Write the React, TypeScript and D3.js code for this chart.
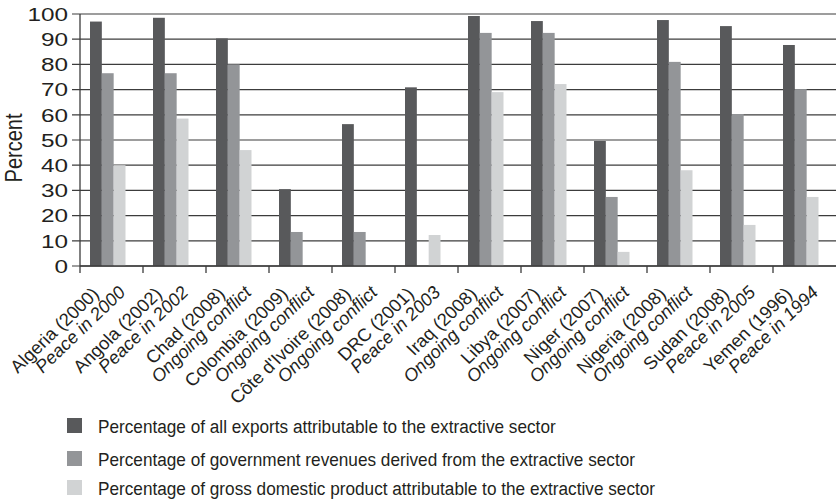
import React from "react";
import * as d3 from "d3";

const categories = ["Algeria (2000)", "Angola (2002)", "Chad (2008)", "Colombia (2009)", "Côte d'Ivoire (2008)", "DRC (2001)", "Iraq (2008)", "Libya (2007)", "Niger (2007)", "Nigeria (2008)", "Sudan (2008)", "Yemen (1996)"];
const statusLabels = ["Peace in 2000", "Peace in 2002", "Ongoing conflict", "Ongoing conflict", "Ongoing conflict", "Peace in 2003", "Ongoing conflict", "Ongoing conflict", "Ongoing conflict", "Ongoing conflict", "Peace in 2005", "Peace in 1994"];
const exportsShare = [97, 98.5, 90.3, 30.5, 56.3, 70.9, 99.2, 97.2, 49.6, 97.6, 95.2, 87.7];
const revenueShare: (number | null)[] = [76.5, 76.5, 80, 13.5, 13.5, null, 92.5, 92.5, 27.4, 81, 60.3, 70.2];
const gdpShare: (number | null)[] = [40, 58.5, 46, null, null, 12.3, 69, 72.2, 5.6, 38, 16.3, 27.4];
const seriesNames = [
  "Percentage of all exports attributable to the extractive sector",
  "Percentage of government revenues derived from the extractive sector",
  "Percentage of gross domestic product attributable to the extractive sector",
];
const yTicks = [0, 10, 20, 30, 40, 50, 60, 70, 80, 90, 100];

const colors = ["#58595b", "#939598", "#d1d3d4"];
const FONT = "'Liberation Sans', Arial, Helvetica, sans-serif";

export default function App() {
  const W = 836, H = 501;
  const left = 80, right = 836, top = 14, bottom = 266;
  const x = d3.scaleBand<string>().domain(categories).range([left, right]).padding(0);
  const y = d3.scaleLinear().domain([0, 100]).range([bottom, top]);
  const series = [exportsShare, revenueShare, gdpShare];
  const inner = d3.scaleBand<number>().domain([0, 1, 2]).range([10, 45.5]).padding(0);

  return (
    <svg width={W} height={H} style={{ position: "absolute", left: 0, top: 0, background: "#fff" }} fontFamily={FONT}>
      <rect x={0} y={0} width={W} height={H} fill="#fff" />
      {yTicks.map((t) => (
        <line key={"g" + t} x1={left - 8} x2={right} y1={y(t)} y2={y(t)} stroke="#3c3c3c" strokeWidth={1.2} />
      ))}
      {series.map((vals, si) =>
        categories.map((c, ci) => {
          const v = vals[ci];
          if (v == null) return null;
          return (
            <rect key={si + "-" + ci} x={(x(c) as number) + (inner(si) as number)} y={y(v)} width={inner.bandwidth()} height={y(0) - y(v)} fill={colors[si]} />
          );
        })
      )}
      <line x1={left} x2={left} y1={top} y2={bottom + 7} stroke="#3c3c3c" strokeWidth={1.3} />
      <line x1={left} x2={right} y1={bottom} y2={bottom} stroke="#3c3c3c" strokeWidth={1.3} />
      {categories.map((c, i) =>
        i === 0 ? null : <line key={"t" + i} x1={x(c)} x2={x(c)} y1={bottom} y2={bottom + 7} stroke="#3c3c3c" strokeWidth={1.3} />
      )}
      {yTicks.map((t) => (
        <text key={"l" + t} transform={`translate(68,${y(t)}) scale(1.28,1)`} dy="0.36em" textAnchor="end" fontSize={19} fill="#231f20">{t}</text>
      ))}
      <text transform={`translate(22,148) scale(1.2,1) rotate(-90)`} textAnchor="middle" fontSize={20} fill="#231f20">Percent</text>
      {categories.map((c, i) => {
        const x0 = x(c) as number;
        return (
          <g key={"xl" + i} transform={`translate(${x0 + 20},295) scale(1.04,1) rotate(-45)`} fontSize={17.8} fill="#231f20">
            <text x={0} y={0} textAnchor="end">{c}</text>
            <text x={19} y={17} textAnchor="end" fontStyle="italic">{statusLabels[i]}</text>
          </g>
        );
      })}
      {seriesNames.map((s, i) => {
        const ys = [418, 451, 480][i];
        return (
          <g key={"lg" + i}>
            <rect x={67} y={ys} width={15} height={15} fill={colors[i]} />
            <text transform={`translate(98,${ys + 14.5}) scale(1,1.12)`} fontSize={17.2} fill="#231f20">{s}</text>
          </g>
        );
      })}
    </svg>
  );
}
